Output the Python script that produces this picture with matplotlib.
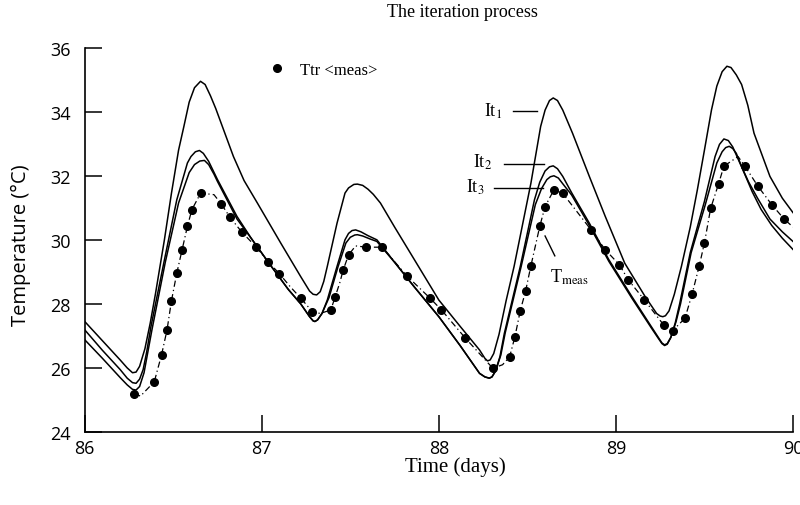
import matplotlib
matplotlib.use("Agg")
import matplotlib.pyplot as plt
from matplotlib.lines import Line2D

plt.rcParams['mathtext.fontset'] = 'stix'

# Iteration 1
t_it1 = [86.00, 86.10, 86.20, 86.24, 86.27, 86.29, 86.31, 86.34, 86.37, 86.40,
         86.45, 86.49, 86.53, 86.56, 86.59, 86.62, 86.654, 86.68, 86.71, 86.74,
         86.77, 86.84, 86.90, 86.975, 87.107, 87.22, 87.27, 87.29, 87.31,
         87.33, 87.35, 87.37, 87.425, 87.47, 87.49, 87.52, 87.54, 87.57, 87.60,
         87.63, 87.67, 87.75, 87.84, 87.92, 88.00, 88.12, 88.23, 88.26, 88.275,
         88.29, 88.31, 88.34, 88.38, 88.425, 88.47, 88.52, 88.575, 88.60,
         88.625, 88.646, 88.67, 88.70, 88.755, 88.85, 88.94, 89.05, 89.165,
         89.23, 89.25, 89.265, 89.28, 89.30, 89.33, 89.37, 89.42, 89.46, 89.50,
         89.54, 89.57, 89.60, 89.627, 89.65, 89.68, 89.71, 89.745, 89.78, 89.87,
         89.94, 90.00]
temp_it1 = [27.45, 26.85, 26.25, 26.00, 25.85, 25.87, 26.05, 26.60, 27.40, 28.33,
            30.00, 31.46, 32.80, 33.54, 34.30, 34.75, 34.95, 34.85, 34.50, 34.10,
            33.65, 32.60, 31.85, 31.15, 29.90, 28.85, 28.40, 28.30, 28.28,
            28.38, 28.70, 29.17, 30.52, 31.46, 31.62, 31.73, 31.74, 31.70, 31.58,
            31.42, 31.15, 30.40, 29.58, 28.85, 28.12, 27.30, 26.56, 26.30, 26.22,
            26.25, 26.45, 27.05, 28.10, 29.17, 30.40, 31.77, 33.54, 34.05,
            34.35, 34.43, 34.35, 34.05, 33.33, 31.98, 30.73, 29.27, 28.23,
            27.70, 27.62, 27.60, 27.63, 27.78, 28.30, 29.17, 30.40, 31.56, 32.80,
            34.06, 34.80, 35.25, 35.42, 35.38, 35.15, 34.85, 34.20, 33.33, 31.98,
            31.30, 30.85]

# Iteration 2
t_it2 = [86.00, 86.10, 86.20, 86.24, 86.27, 86.29, 86.31, 86.33, 86.35, 86.374,
         86.45, 86.52, 86.58, 86.60, 86.625, 86.648, 86.67, 86.70, 86.75, 86.86,
         86.94, 87.05, 87.15, 87.22, 87.27, 87.29, 87.30, 87.315, 87.34, 87.37,
         87.425, 87.47, 87.49, 87.51, 87.53, 87.56, 87.60, 87.65, 87.75, 87.86,
         88.00, 88.12, 88.23, 88.26, 88.285, 88.30, 88.32, 88.345, 88.37, 88.46,
         88.54, 88.57, 88.60, 88.625, 88.646, 88.67, 88.70, 88.75, 88.85, 88.96,
         89.09, 89.20, 89.24, 89.26, 89.275, 89.29, 89.31, 89.335, 89.36, 89.42,
         89.50, 89.56, 89.585, 89.61, 89.635, 89.66, 89.70, 89.75, 89.80, 89.87,
         89.94, 90.00]
temp_it2 = [27.19, 26.55, 25.95, 25.68, 25.54, 25.52, 25.65, 25.95, 26.50, 27.29,
            29.37, 31.25, 32.40, 32.60, 32.75, 32.79, 32.70, 32.45, 31.88, 30.73,
            30.05, 29.20, 28.45, 28.00, 27.60, 27.47, 27.45, 27.50, 27.70, 28.12,
            29.17, 30.00, 30.20, 30.29, 30.31, 30.25, 30.13, 30.00, 29.30, 28.54,
            27.60, 26.70, 25.83, 25.72, 25.68, 25.72, 25.90, 26.35, 27.08, 29.17,
            31.25, 31.80, 32.15, 32.28, 32.31, 32.22, 31.98, 31.47, 30.52, 29.38,
            28.23, 27.29, 26.95, 26.78, 26.72, 26.76, 26.95, 27.40, 28.00, 29.60,
            31.20, 32.60, 32.98, 33.15, 33.10, 32.90, 32.40, 31.80, 31.30, 30.65,
            30.25, 29.95]

# Iteration 3
t_it3 = [86.00, 86.10, 86.20, 86.24, 86.27, 86.29, 86.31, 86.335, 86.355, 86.38,
         86.455, 86.53, 86.59, 86.62, 86.65, 86.676, 86.70, 86.73, 86.75, 86.86,
         86.94, 87.05, 87.15, 87.22, 87.27, 87.29, 87.30, 87.315, 87.34, 87.38,
         87.43, 87.475, 87.50, 87.525, 87.54, 87.57, 87.61, 87.65, 87.75, 87.86,
         88.00, 88.12, 88.23, 88.26, 88.285, 88.30, 88.32, 88.35, 88.375,
         88.465, 88.545, 88.58, 88.61, 88.63, 88.65, 88.675, 88.70, 88.75, 88.85,
         88.96, 89.09, 89.20, 89.24, 89.26, 89.275, 89.29, 89.31, 89.34, 89.365,
         89.425, 89.505, 89.57, 89.60, 89.62, 89.64, 89.66, 89.68, 89.72, 89.77,
         89.82, 89.88, 89.94, 90.00]
temp_it3 = [26.88, 26.30, 25.70, 25.47, 25.33, 25.31, 25.42, 25.85, 26.45, 27.20,
            29.30, 31.15, 32.10, 32.35, 32.46, 32.48, 32.35, 32.05, 31.82, 30.65,
            30.05, 29.20, 28.45, 28.00, 27.60, 27.47, 27.45, 27.50, 27.70, 28.20,
            29.15, 29.90, 30.08, 30.15, 30.16, 30.12, 30.03, 29.95, 29.30, 28.54,
            27.60, 26.70, 25.83, 25.72, 25.68, 25.72, 25.90, 26.40, 27.10,
            29.17, 31.10, 31.60, 31.88, 31.97, 32.00, 31.93, 31.75, 31.40, 30.45,
            29.33, 28.18, 27.25, 26.92, 26.76, 26.70, 26.74, 26.95, 27.45, 28.00,
            29.60, 31.10, 32.40, 32.75, 32.88, 32.92, 32.85, 32.70, 32.15, 31.50,
            30.95, 30.45, 30.05, 29.70]

# Measured temperature
t_meas = [86.28, 86.315, 86.393, 86.434, 86.465, 86.49, 86.52, 86.55, 86.58,
          86.605, 86.655, 86.73, 86.77, 86.82, 86.886, 86.966, 87.035, 87.10,
          87.16, 87.22, 87.285, 87.33, 87.39, 87.415, 87.44, 87.46, 87.49,
          87.53, 87.59, 87.68, 87.82, 87.95, 88.015, 88.15, 88.305, 88.36,
          88.40, 88.43, 88.46, 88.49, 88.52, 88.57, 88.60, 88.65, 88.70,
          88.86, 88.94, 89.02, 89.07, 89.16, 89.27, 89.32, 89.39, 89.43,
          89.47, 89.50, 89.535, 89.58, 89.61, 89.69, 89.73, 89.80, 89.88,
          89.95, 90.00]
temp_meas = [25.20, 25.12, 25.57, 26.41, 27.19, 28.10, 28.96, 29.69, 30.42,
             30.94, 31.46, 31.41, 31.13, 30.71, 30.25, 29.79, 29.32, 28.94,
             28.54, 28.18, 27.76, 27.70, 27.81, 28.23, 28.65, 29.06, 29.53,
             29.81, 29.77, 29.77, 28.87, 28.18, 27.81, 26.93, 25.99, 26.10,
             26.35, 26.98, 27.79, 28.40, 29.19, 30.42, 31.04, 31.56, 31.45,
             30.31, 29.69, 29.22, 28.75, 28.13, 27.34, 27.16, 27.55, 28.30,
             29.17, 29.90, 30.98, 31.75, 32.30, 32.60, 32.29, 31.69, 31.10,
             30.65, 30.40]

x_ticks = [86, 87, 88, 89, 90]
y_ticks = [24, 26, 28, 30, 32, 34, 36]

serif = 'Liberation Serif'
sans = 'Open Sans'

fig = plt.figure(figsize=(8, 5.06), dpi=100)
ax = fig.add_axes([0.1059, 0.1443, 0.8853, 0.7595])

for t, v in [(t_it1, temp_it1), (t_it2, temp_it2), (t_it3, temp_it3)]:
    ax.plot(t, v, color='black', lw=1.1, solid_joinstyle='round')

ax.plot(t_meas, temp_meas, color='black', lw=0.9, ls=(0, (5, 2.5, 1, 2.5)),
        marker='o', ms=5.5, markevery=0.025)

ax.set_xlim(86, 90)
ax.set_ylim(24, 36)
ax.set_xticks(x_ticks)
ax.set_yticks(y_ticks)
ax.spines['top'].set_visible(False)
ax.spines['right'].set_visible(False)
for s in ['left', 'bottom']:
    ax.spines[s].set_linewidth(1.2)
ax.tick_params(direction='in', length=12, width=1.1, labelsize=13)
ax.tick_params(axis='y', pad=10)
ax.tick_params(axis='x', pad=5)
for lab in ax.get_xticklabels() + ax.get_yticklabels():
    lab.set_fontfamily(sans)

# Curve labels with leader lines
lab_kw = dict(fontsize=13, family=serif, va='center')
ax.text(88.36, 34.04, r'It$_1$', ha='right', **lab_kw)
ax.plot([88.42, 88.555], [34.01, 34.01], color='black', lw=1.0)
ax.text(88.30, 32.44, r'It$_2$', ha='right', **lab_kw)
ax.plot([88.37, 88.595], [32.37, 32.37], color='black', lw=1.0)
ax.text(88.26, 31.66, r'It$_3$', ha='right', **lab_kw)
ax.plot([88.31, 88.59], [31.62, 31.62], color='black', lw=1.0)
ax.text(88.63, 28.85, r'T$_{\mathrm{meas}}$', ha='left', **lab_kw)
ax.plot([88.60, 88.655], [30.12, 29.50], color='black', lw=1.0)

handle = Line2D([], [], ls='none', marker='o', color='black', ms=5.5)
ax.legend([handle], ['Ttr <meas>'], loc='center left',
          bbox_to_anchor=(0.227, 0.943), frameon=False, handletextpad=0.4,
          prop={'family': serif, 'size': 12})

fig.text(0.578, 0.975, 'The iteration process', ha='center', va='center',
         family=serif, fontsize=13)
fig.text(0.569, 0.077, 'Time (days)', ha='center', va='center',
         family=serif, fontsize=15)
fig.text(0.026, 0.516, 'Temperature (°C)', ha='center', va='center',
         rotation=90, family=sans, fontsize=14.5)

fig.savefig('out.png', dpi=100, facecolor='white')
